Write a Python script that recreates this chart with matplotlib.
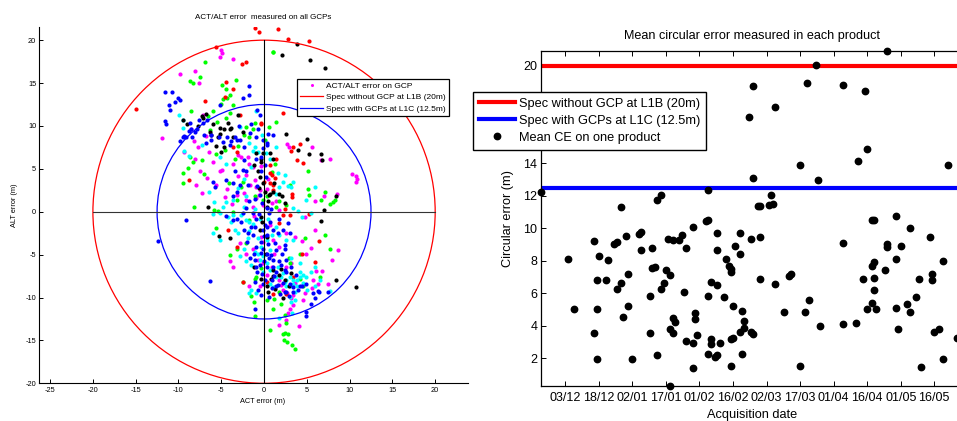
import numpy as np
import pandas as pd
import matplotlib
matplotlib.use('Agg')
import matplotlib.pyplot as plt
import matplotlib.dates as mdates
from matplotlib.patches import Circle
from matplotlib.lines import Line2D

plt.rcParams['font.family'] = ['Liberation Sans', 'DejaVu Sans']
plt.rcParams['axes.unicode_minus'] = False

# ACT/ALT error (m) measured on GCPs, one list per colour (x = ACT, y = ALT)
gcp_red = [(-1.0, 21.4), (-0.6, 20.9), (1.6, 21.3), (2.8, 20.1), (5.2, 19.9), (-5.6, 19.2), (-2.1, 17.4),
           (-2.6, 17.2), (-15.0, 12.0), (-4.4, 15.1), (-3.6, 14.3), (-4.6, 13.4), (-6.9, 12.9), (-2.8, 11.3),
           (-0.3, 10.4), (-0.3, 10.2), (2.2, 11.5), (3.4, 7.5), (4.2, 7.9), (3.1, 7.1), (3.8, 6.0), (4.6, 5.7),
           (0.7, 4.5), (0.9, 4.3), (1.3, 3.9), (0.7, 3.4), (1.1, 3.1), (0.0, 3.5), (1.1, 2.5), (3.3, 2.1),
           (3.3, 1.7), (2.5, 0.3), (3.0, -0.4), (5.3, -0.3), (1.8, -1.3), (-4.2, -2.1), (4.4, -4.9), (6.4, -3.4),
           (5.9, -5.9), (-2.5, -8.2), (1.3, -8.8), (0.3, -8.2), (2.6, -9.6), (1.1, -9.6), (-8.8, 3.7), (-3.2, 7.0),
           (-3.6, 7.5), (1.4, 6.2), (0.7, 5.4), (2.2, -0.4), (-3.2, -4.1), (3.4, -7.6)]

gcp_black = [(3.8, 19.5), (2.1, 18.3), (5.4, 17.7), (7.1, 16.8), (-6.8, 11.4), (-7.2, 11.2), (-3.0, 11.3),
             (-9.5, 10.7), (-9.0, 10.2), (-7.7, 10.0), (-7.1, 10.9), (-5.2, 9.8), (-6.3, 9.3), (-6.2, 8.9),
             (-5.2, 9.1), (-5.4, 8.7), (-4.7, 9.7), (-4.0, 9.7), (-3.9, 9.8), (-3.6, 8.7), (-5.6, 7.7), (-4.7, 7.6),
             (-5.0, 7.0), (-0.9, 6.8), (-0.4, 6.2), (-0.3, 5.8), (-0.5, 4.1), (-0.1, 3.4), (0.7, 2.1), (0.6, 1.9),
             (1.0, 2.3), (1.2, 3.4), (2.6, 9.1), (5.0, 8.5), (4.0, 7.2), (5.3, 6.7), (6.6, 6.7), (6.8, 6.0),
             (7.0, 0.2), (6.6, -1.1), (8.4, 1.8), (-6.5, 0.6), (-5.3, -2.8), (-4.0, -3.1), (-0.3, -0.6),
             (-0.5, -2.1), (0.2, -4.9), (1.0, -6.8), (1.1, -7.5), (0.3, -8.7), (0.5, -9.3), (0.8, -7.8),
             (1.7, -7.4), (2.9, -8.7), (8.4, -8.0), (10.7, -8.8), (2.0, -6.7), (2.2, -10.1), (3.1, -7.2),
             (-1.2, -6.4), (-0.1, 6.8), (0.7, 6.8), (1.1, 6.1), (-0.7, 4.7), (0.1, 2.3), (0.5, 1.2), (1.8, 2.1),
             (2.1, 1.8), (2.5, 1.0), (-0.2, -1.2), (0.4, -3.0), (-0.4, -7.8), (2.4, -8.0), (1.3, -9.0), (-0.6, 2.8),
             (-1.2, 5.5), (-2.5, 9.3), (-4.2, 10.3), (-6.0, 10.2), (0.3, 0.6)]

gcp_magenta = [(-5.0, 18.8), (-4.9, 18.5), (-5.1, 18.0), (-3.6, 17.8), (-9.8, 16.0), (-8.1, 16.4), (-7.6, 15.0),
               (-11.9, 8.6), (-7.1, 11.3), (-8.5, 9.7), (-7.7, 7.6), (-9.3, 7.0), (-8.1, 6.2), (-7.5, 4.7),
               (-6.7, 3.9), (-7.9, 3.1), (-7.2, 2.2), (-5.6, 3.1), (-4.9, 4.9), (-6.0, 5.8), (-5.2, 4.7),
               (-3.6, 5.6), (-3.0, 6.6), (-2.7, 6.4), (-1.9, 6.4), (-1.8, 5.6), (-1.3, 5.2), (-2.1, 4.3),
               (-1.1, 3.7), (-1.6, 3.1), (-0.9, 2.9), (-0.5, 2.5), (0.3, 2.7), (-0.9, 1.6), (-1.3, 0.6), (-0.1, 0.8),
               (0.9, 1.0), (1.4, 1.2), (2.7, 7.9), (2.9, 7.6), (5.6, 7.6), (6.7, 6.0), (7.7, 6.1), (10.3, 4.4),
               (10.7, 4.2), (10.9, 3.8), (10.8, 3.5), (8.5, 2.1), (6.0, 1.2), (7.0, 1.8), (4.8, -0.6), (5.9, -2.1),
               (5.5, -4.2), (8.6, -4.5), (7.9, -5.6), (6.1, -6.9), (5.7, -8.0), (6.3, -8.4), (7.5, -8.4),
               (6.8, -6.9), (5.6, -8.9), (4.6, -10.3), (3.4, -9.7), (3.2, -10.1), (2.8, -11.8), (3.0, -11.3),
               (2.6, -12.6), (1.8, -13.2), (4.1, -13.3), (3.4, -10.9), (-0.4, -2.9), (-1.3, -4.3), (-2.1, -4.9),
               (-2.8, -3.7), (-4.0, -5.8), (-3.6, -6.4), (-1.8, -8.7), (-0.5, -8.7), (1.7, -8.0), (2.0, -8.5),
               (2.2, -9.1), (2.7, -9.5), (0.9, -6.4), (-0.1, -3.5), (1.0, -3.3), (1.8, -4.1), (2.6, -2.5),
               (3.6, -3.0), (4.4, -3.4), (4.9, -4.9), (2.6, -6.4), (3.2, -6.0), (0.7, -1.6), (-0.1, -6.0),
               (-0.7, -5.6), (-3.2, 1.9), (-2.1, 1.4), (-3.7, 0.9), (-4.6, 1.7), (-1.2, -0.5), (0.5, 3.8),
               (-0.6, 1.9), (1.2, -4.9), (0.3, -7.4), (3.6, -8.3), (4.8, -9.5), (-2.4, 2.2), (-3.0, 4.2),
               (-4.3, 2.6), (-0.3, 5.3), (1.8, 0.2), (-6.4, 7.0), (-6.8, 8.8), (-8.2, 8.3)]

gcp_green = [(1.1, 18.6), (1.0, 18.6), (-6.9, 17.4), (-7.5, 15.7), (-8.7, 15.2), (-8.3, 15.0), (-4.9, 14.8),
             (-3.3, 15.3), (-4.4, 14.3), (-4.0, 13.6), (-4.8, 13.1), (-5.0, 12.6), (-4.3, 13.3), (-3.6, 12.4),
             (-6.0, 11.8), (-6.6, 11.2), (-8.5, 11.8), (-4.4, 10.9), (-4.0, 11.5), (-5.5, 10.5), (-2.1, 9.9),
             (-1.1, 10.4), (-1.3, 9.6), (1.4, 10.5), (0.1, 8.4), (0.6, 9.9), (-8.6, 6.4), (-8.3, 5.8), (-8.9, 5.1),
             (-9.5, 4.5), (-9.5, 3.4), (-8.2, 0.6), (-5.8, 0.2), (-5.4, 0.1), (-5.6, -1.9), (-3.6, 0.0), (-3.2, 1.4),
             (-2.5, 3.5), (-4.1, 3.4), (-2.7, 2.9), (-1.1, 1.8), (-0.1, 1.4), (0.4, 1.8), (1.8, 1.2), (3.0, 3.1),
             (5.1, 4.8), (5.1, 2.6), (7.1, 2.3), (6.7, 1.4), (7.7, 0.9), (8.0, 1.1), (8.3, 1.4), (7.1, -2.7),
             (7.7, -4.3), (4.8, -3.1), (3.0, -6.0), (4.2, -7.8), (4.6, -8.7), (6.5, -7.6), (-4.0, -5.1),
             (-3.2, -4.4), (-2.1, -3.7), (-0.9, -7.6), (-1.0, -7.8), (-2.5, -8.2), (-1.5, -9.8), (-1.0, -12.1),
             (0.7, -13.8), (1.2, -10.2), (1.1, -11.3), (2.0, -10.7), (2.5, -12.0), (2.6, -13.0), (2.2, -14.2),
             (2.5, -14.1), (2.8, -14.2), (2.3, -15.0), (2.7, -15.2), (3.3, -15.5), (3.6, -16.0), (0.3, -10.3),
             (1.4, 0.6), (-5.6, 6.7), (-7.3, 6.0), (2.6, 0.8), (5.3, 2.0), (-4.6, 7.2), (-3.4, 6.1), (-1.8, 8.7),
             (1.3, 5.6), (4.2, -4.9), (2.9, -5.4), (-1.2, -10.5), (-1.7, -1.0), (-0.3, -6.6), (1.8, -9.4),
             (-3.0, 7.7), (-2.4, 9.0), (0.9, 4.6), (-6.3, 9.5), (-7.0, 4.4)]

gcp_blue = [(-11.6, 13.9), (-10.7, 13.9), (-10.0, 13.3), (-9.8, 13.0), (-10.4, 12.8), (-11.1, 12.5), (-11.0, 11.9),
            (-11.6, 10.6), (-11.5, 10.2), (-1.7, 14.7), (-1.8, 13.6), (-2.5, 13.3), (-5.2, 12.4), (-0.8, 11.9),
            (-0.5, 11.3), (-9.1, 8.7), (-9.3, 8.8), (-9.5, 8.7), (-8.8, 9.4), (-8.5, 9.6), (-8.1, 9.3), (-7.8, 9.7),
            (-8.4, 8.7), (-7.6, 10.7), (-7.1, 10.4), (-6.7, 10.7), (-6.2, 8.9), (-5.3, 8.7), (-6.2, 8.4),
            (-4.3, 8.7), (-3.4, 8.7), (-3.2, 8.4), (-4.0, 7.8), (-2.8, 8.4), (-2.3, 7.6), (-1.6, 9.2), (-0.9, 8.7),
            (-0.1, 8.4), (0.5, 9.1), (1.1, 8.9), (0.3, 7.8), (-0.1, 7.4), (-0.4, 6.4), (-2.3, 6.0), (-2.5, 4.9),
            (-3.4, 4.8), (-2.1, 4.8), (-0.9, 6.2), (-6.0, 3.5), (-4.4, 3.7), (-3.6, 3.4), (-2.8, 3.1), (-1.9, 3.1),
            (-3.2, 2.3), (-3.6, 1.8), (-1.7, 1.2), (-2.1, 0.4), (-1.3, -0.2), (-0.9, -0.8), (-3.2, -0.8),
            (-2.7, -1.2), (-3.6, -1.0), (-2.3, -2.1), (-1.9, -2.5), (-1.3, -2.7), (-0.1, -2.1), (0.3, -1.8),
            (0.7, -1.2), (1.1, -2.1), (1.6, -2.5), (2.2, -2.1), (0.6, -0.2), (0.3, -2.7), (-0.1, -4.3), (0.3, -4.9),
            (0.6, -5.4), (1.1, -5.6), (1.8, -5.8), (1.1, -6.4), (1.4, -7.0), (2.0, -6.2), (2.6, -5.6), (2.6, -7.0),
            (0.9, -8.0), (1.6, -8.5), (2.2, -8.3), (3.0, -8.4), (3.4, -8.8), (4.0, -9.1), (4.4, -8.7), (4.9, -8.4),
            (5.7, -9.5), (5.9, -10.0), (5.5, -10.8), (4.9, -12.2), (4.9, -11.7), (4.2, -8.7), (6.3, -9.2),
            (6.4, -9.3), (7.5, -9.3), (3.4, -9.3), (2.4, -9.3), (-1.1, -8.2), (-0.1, -8.4), (-1.1, -11.3),
            (-0.7, -9.1), (-0.9, -4.1), (-1.2, -4.9), (-1.1, -5.6), (-0.9, -6.4), (0.0, -2.8), (-9.1, -1.0),
            (-12.4, -3.4), (-6.3, -8.1), (-1.6, -5.4), (-0.5, -6.2), (2.5, -3.9), (3.0, -2.5), (2.1, -4.9),
            (1.4, -4.5), (2.6, -9.3), (0.9, -8.9), (1.4, -8.7), (0.3, 8.0), (0.1, 5.5), (-0.4, 4.8), (0.2, 4.0),
            (-0.2, 1.0), (0.4, 0.4), (-0.6, -0.3), (0.1, -1.5), (-0.3, -3.5), (0.5, -3.8), (0.0, -5.8), (0.4, -6.5),
            (-0.2, -7.3), (0.1, -7.9), (-0.8, 3.0), (-0.5, 2.0), (-1.0, -1.8), (-0.4, -4.8), (-0.8, -7.0),
            (-0.3, -9.7), (0.6, -9.9), (1.9, -9.6), (2.9, -9.8), (1.2, -7.5), (2.4, -6.8), (3.7, -7.4), (3.2, -6.5),
            (-0.7, 9.6), (-1.5, 10.2), (-2.9, 10.0), (-3.9, 8.2), (-4.8, 8.1), (-7.0, 9.0), (-8.7, 10.4),
            (-9.8, 8.3), (-6.8, 8.0), (-5.7, 2.9), (-4.5, -0.5), (-2.0, -3.5), (-1.5, -1.8), (-2.5, -0.2),
            (-1.0, 1.5), (0.8, 0.3), (1.7, -0.9), (2.8, -1.3), (1.3, -3.6), (0.8, -5.0), (2.4, -4.4)]

gcp_cyan = [(-9.4, 7.1), (-9.5, 9.8), (-8.8, 6.5), (-7.3, 7.8), (-6.4, 2.3), (-5.8, 1.1), (-6.0, -0.3),
            (-5.2, -0.2), (-4.8, 0.6), (-4.4, 1.1), (-3.6, -0.4), (-2.7, -0.4), (-2.1, -1.0), (-1.7, -1.2),
            (-1.3, -1.4), (-3.4, -2.1), (-3.0, -2.5), (-1.9, -3.1), (-0.7, -3.1), (0.3, -3.3), (-1.1, -4.7),
            (-0.7, -4.9), (-0.1, -5.2), (-0.5, -5.6), (0.3, -6.0), (0.7, -6.8), (1.4, -7.6), (2.0, -7.6),
            (2.6, -8.0), (3.0, -7.6), (3.4, -7.9), (3.8, -8.0), (4.2, -7.6), (4.6, -7.4), (3.0, -8.7), (3.4, -8.4),
            (3.8, -8.7), (2.6, -8.7), (2.2, -7.2), (4.2, -7.0), (4.9, -7.6), (5.5, -7.0), (6.5, -7.9), (6.0, -8.7),
            (7.7, -9.2), (3.0, -9.9), (3.6, -10.3), (3.2, -10.5), (1.1, -8.8), (-0.1, -7.0), (0.7, -8.4),
            (-1.5, -9.1), (-1.8, -9.5), (-0.9, -9.5), (3.3, -11.8), (1.8, -12.4), (1.4, 2.1), (1.8, 2.9),
            (2.2, 3.5), (2.8, 3.0), (3.2, 2.9), (3.4, 3.5), (-1.3, 7.1), (-0.7, 7.0), (-1.1, 7.6), (-0.9, 11.8),
            (0.2, 6.8), (0.7, 6.2), (1.4, 7.6), (2.4, 4.3), (-2.8, 9.9), (-2.3, 0.6), (-3.6, 1.4), (-2.1, 1.8),
            (3.4, 0.4), (4.0, 0.1), (4.9, 1.4), (5.9, 2.9), (1.6, 4.5), (-1.5, 5.2), (-4.4, 5.6), (-5.2, 6.4),
            (4.4, -0.6), (5.5, -0.2), (-6.0, -2.5), (-5.1, -3.3), (2.6, -3.3), (1.8, -2.7), (3.4, -3.3),
            (1.4, -1.8), (-2.8, -5.2), (-2.1, -5.7), (-1.5, -6.2), (3.2, -5.4), (4.2, -6.0), (6.0, -6.4),
            (0.7, -4.5), (-9.9, 11.3), (-9.5, 10.7), (-0.5, -0.8), (-1.8, -2.3), (0.9, -2.7), (-0.3, -4.1),
            (1.6, -6.5), (2.4, -8.2), (4.6, -8.3), (5.0, -9.1), (3.6, -9.4), (-2.4, -4.4), (-3.9, -1.2),
            (-4.2, -0.6), (-1.0, 0.3), (0.5, -0.9), (-0.2, 9.0), (-1.8, 8.0), (-3.1, 2.8), (-2.3, 3.8)]

# mean circular error (m) per product, by acquisition date
mean_ce = [('2015-11-22', 12.24), ('2015-12-04', 8.10), ('2015-12-07', 5.01), ('2015-12-16', 9.25),
           ('2015-12-16', 3.58), ('2015-12-17', 6.83), ('2015-12-17', 5.01), ('2015-12-17', 1.94),
           ('2015-12-18', 8.29), ('2015-12-21', 6.83), ('2015-12-22', 8.04), ('2015-12-25', 9.05),
           ('2015-12-26', 9.17), ('2015-12-26', 6.30), ('2015-12-28', 6.65), ('2015-12-28', 11.30),
           ('2015-12-29', 4.54), ('2015-12-30', 9.56), ('2015-12-31', 7.20), ('2015-12-31', 5.21),
           ('2016-01-02', 1.94), ('2016-01-05', 9.66), ('2016-01-06', 9.78), ('2016-01-06', 8.70),
           ('2016-01-10', 3.58), ('2016-01-10', 5.83), ('2016-01-11', 8.82), ('2016-01-11', 7.55),
           ('2016-01-12', 7.63), ('2016-01-13', 11.77), ('2016-01-13', 2.18), ('2016-01-15', 12.07),
           ('2016-01-15', 6.28), ('2016-01-16', 6.65), ('2016-01-17', 7.43), ('2016-01-18', 9.35),
           ('2016-01-19', 7.14), ('2016-01-19', 0.30), ('2016-01-19', 3.78), ('2016-01-20', 9.31),
           ('2016-01-20', 3.58), ('2016-01-20', 4.46), ('2016-01-21', 4.23), ('2016-01-23', 9.31),
           ('2016-01-24', 9.60), ('2016-01-25', 6.09), ('2016-01-26', 3.10), ('2016-01-26', 8.80),
           ('2016-01-29', 2.96), ('2016-01-29', 10.07), ('2016-01-29', 1.40), ('2016-01-30', 4.80),
           ('2016-01-30', 4.40), ('2016-01-31', 3.45), ('2016-02-04', 10.48), ('2016-02-05', 10.54),
           ('2016-02-05', 12.34), ('2016-02-05', 5.83), ('2016-02-05', 2.24), ('2016-02-06', 3.17),
           ('2016-02-06', 2.86), ('2016-02-06', 6.71), ('2016-02-08', 2.08), ('2016-02-09', 2.18),
           ('2016-02-09', 9.72), ('2016-02-09', 8.65), ('2016-02-09', 6.50), ('2016-02-10', 2.96),
           ('2016-02-12', 5.77), ('2016-02-13', 8.12), ('2016-02-14', 7.67), ('2016-02-15', 7.51),
           ('2016-02-15', 7.30), ('2016-02-15', 1.53), ('2016-02-15', 3.19), ('2016-02-16', 5.25),
           ('2016-02-16', 3.27), ('2016-02-17', 8.94), ('2016-02-19', 9.72), ('2016-02-19', 8.45),
           ('2016-02-19', 3.64), ('2016-02-20', 4.91), ('2016-02-20', 2.24), ('2016-02-21', 4.29),
           ('2016-02-21', 3.88), ('2016-02-23', 16.85), ('2016-02-24', 9.37), ('2016-02-24', 3.62),
           ('2016-02-25', 18.77), ('2016-02-25', 13.10), ('2016-02-25', 3.53), ('2016-02-27', 11.36),
           ('2016-02-28', 11.36), ('2016-02-28', 9.47), ('2016-02-28', 6.89), ('2016-03-03', 11.42),
           ('2016-03-04', 12.07), ('2016-03-05', 11.50), ('2016-03-06', 17.50), ('2016-03-06', 6.59),
           ('2016-03-10', 4.85), ('2016-03-12', 7.10), ('2016-03-13', 7.22), ('2016-03-17', 13.88),
           ('2016-03-17', 1.53), ('2016-03-19', 4.85), ('2016-03-20', 18.96), ('2016-03-21', 5.62),
           ('2016-03-24', 20.04), ('2016-03-25', 13.00), ('2016-03-26', 3.99), ('2016-04-05', 18.83),
           ('2016-04-05', 9.13), ('2016-04-05', 4.13), ('2016-04-11', 4.19), ('2016-04-12', 14.12),
           ('2016-04-14', 6.89), ('2016-04-15', 18.48), ('2016-04-16', 14.86), ('2016-04-16', 5.01),
           ('2016-04-18', 7.67), ('2016-04-18', 5.38), ('2016-04-18', 10.50), ('2016-04-19', 10.54),
           ('2016-04-19', 7.92), ('2016-04-19', 6.95), ('2016-04-19', 6.24), ('2016-04-20', 5.01),
           ('2016-04-24', 7.45), ('2016-04-25', 20.94), ('2016-04-25', 9.04), ('2016-04-25', 8.86),
           ('2016-04-29', 10.74), ('2016-04-29', 8.10), ('2016-04-29', 5.09), ('2016-04-30', 3.78),
           ('2016-05-01', 8.94), ('2016-05-04', 5.32), ('2016-05-05', 10.03), ('2016-05-05', 4.85),
           ('2016-05-08', 5.77), ('2016-05-09', 6.89), ('2016-05-10', 1.47), ('2016-05-14', 9.47),
           ('2016-05-15', 7.20), ('2016-05-15', 6.83), ('2016-05-16', 3.62), ('2016-05-18', 3.78),
           ('2016-05-20', 7.98), ('2016-05-20', 1.94), ('2016-05-22', 13.88), ('2016-05-26', 3.27)]

spec_l1b = 20.0
spec_l1c = 12.5
date_ticks = pd.date_range('2015-12-03', periods=12, freq='15D')
date_end = pd.Timestamp('2016-05-29')


def plot_gcp_errors(ax):
    groups = [(gcp_magenta, 'magenta'), (gcp_green, 'lime'), (gcp_red, 'red'),
              (gcp_cyan, 'cyan'), (gcp_black, 'black'), (gcp_blue, 'blue')]
    for pts, col in groups:
        xy = np.array(pts)
        ax.scatter(xy[:, 0], xy[:, 1], s=9, color=col, linewidths=0, zorder=2)

    ax.add_patch(Circle((0, 0), spec_l1b, fill=False, ec='red', lw=0.9, zorder=3))
    ax.add_patch(Circle((0, 0), spec_l1c, fill=False, ec='blue', lw=0.9, zorder=3))
    ax.plot([-spec_l1b, spec_l1b], [0, 0], color='#333333', lw=0.8, zorder=3)
    ax.plot([0, 0], [-spec_l1b, spec_l1b], color='black', lw=0.8, zorder=3)

    ax.set_xlim(-26.3, 23.8)
    ax.set_ylim(-20, 21.5)
    ax.set_xticks(range(-25, 21, 5))
    ax.set_yticks(range(-20, 21, 5))
    ax.spines[['top', 'right']].set_visible(False)
    for sp in ax.spines.values():
        sp.set_linewidth(0.8)
    ax.tick_params(direction='in', labelsize=5.3, length=3, width=0.7)
    ax.tick_params(axis='x', pad=3)
    ax.tick_params(axis='y', pad=2)

    ax.set_title('ACT/ALT error  measured on all GCPs', fontsize=5.8, x=0.522, y=1.027, va='center', pad=0)
    ax.set_xlabel('ACT error (m)', fontsize=5.3)
    ax.xaxis.set_label_coords(0.522, -0.05)
    ax.xaxis.label.set_va('center')
    ax.set_ylabel('ALT error (m)', fontsize=5.3)
    ax.yaxis.set_label_coords(-0.056, 0.5)
    ax.yaxis.label.set_va('center')

    handles = [Line2D([], [], ls='none', marker='o', ms=2.2, mew=0, color='magenta'),
               Line2D([], [], color='red', lw=0.9),
               Line2D([], [], color='blue', lw=0.9)]
    labels = ['ACT/ALT error on GCP', 'Spec without GCP at L1B (20m)', 'Spec with GCPs at L1C (12.5m)']
    leg = ax.legend(handles, labels, loc='upper right', bbox_to_anchor=(0.956, 0.856), fontsize=6.0,
                    frameon=True, fancybox=False, framealpha=1, edgecolor='black', borderpad=0.4,
                    labelspacing=0.45, handlelength=2.8, handletextpad=0.3, borderaxespad=0)
    leg.get_frame().set_linewidth(0.9)


def plot_mean_ce(ax):
    df = pd.DataFrame(mean_ce, columns=['date', 'ce'])
    df['date'] = pd.to_datetime(df['date'])

    ax.axhline(spec_l1b, color='red', lw=3, label='Spec without GCP at L1B (20m)', zorder=2)
    ax.axhline(spec_l1c, color='blue', lw=3, label='Spec with GCPs at L1C (12.5m)', zorder=2)
    ax.plot(df['date'], df['ce'], ls='none', marker='o', ms=4.6, color='black',
            label='Mean CE on one product', clip_on=False, zorder=3)

    ax.set_xlim(df['date'].min(), date_end)
    ax.set_ylim(df['ce'].min(), df['ce'].max())
    ax.set_xticks(date_ticks)
    ax.xaxis.set_major_formatter(mdates.DateFormatter('%d/%m'))
    ax.set_yticks(range(2, 21, 2))
    for sp in ax.spines.values():
        sp.set_linewidth(0.9)
    ax.tick_params(direction='in', top=True, right=True, labelsize=9, length=3.5, width=0.7)
    ax.tick_params(axis='x', pad=4.5)
    ax.tick_params(axis='y', pad=2.5)

    ax.set_title('Mean circular error measured in each product', fontsize=9.1, y=1.045, va='center', pad=0)
    ax.set_xlabel('Acquisition date', fontsize=9.2)
    ax.xaxis.set_label_coords(0.5, -0.0865)
    ax.xaxis.label.set_va('center')
    ax.set_ylabel('Circular error (m)', fontsize=9.2)
    ax.yaxis.set_label_coords(-0.078, 0.5)
    ax.yaxis.label.set_va('center')

    leg = ax.legend(loc='upper left', bbox_to_anchor=(-0.160, 0.877), fontsize=9.2, frameon=True,
                    fancybox=False, framealpha=1, edgecolor='black', borderpad=0.45, labelspacing=0.4,
                    handlelength=2.8, handletextpad=0.35, borderaxespad=0, numpoints=1)
    leg.get_frame().set_linewidth(1.0)
    leg.set_zorder(10)


def main():
    fig = plt.figure(figsize=(9.57, 4.21), dpi=100)
    ax1 = fig.add_axes([39 / 957, (421 - 383.3) / 421, 428.7 / 957, 356 / 421])
    ax2 = fig.add_axes([540.7 / 957, (421 - 386) / 421, 422.6 / 957, 335.3 / 421])
    plot_gcp_errors(ax1)
    plot_mean_ce(ax2)
    fig.savefig('out.png', dpi=100)


if __name__ == "__main__":
    main()
